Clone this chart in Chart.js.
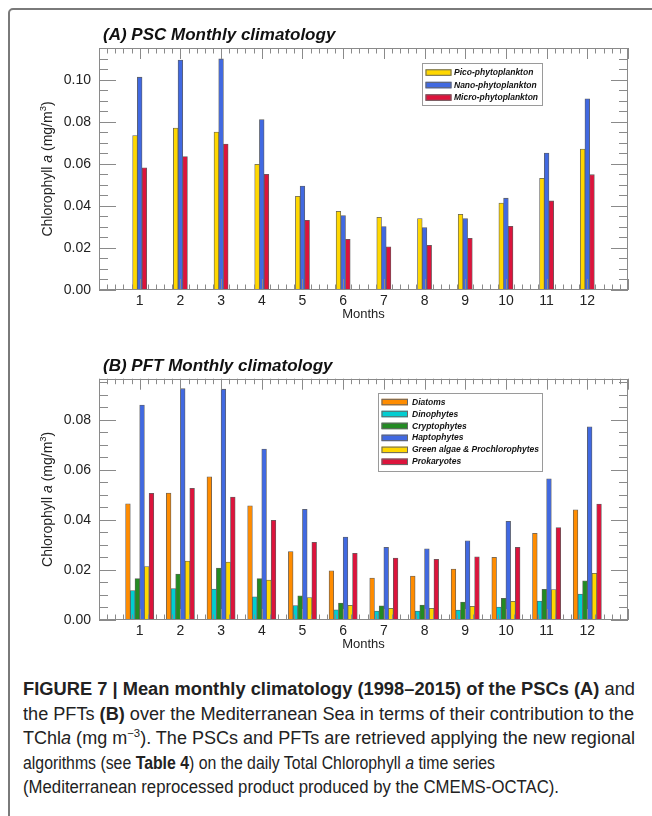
<!DOCTYPE html>
<html>
<head>
<meta charset="utf-8">
<script src="https://cdn.jsdelivr.net/npm/chart.js@4.4.0/dist/chart.umd.min.js"></script>
<style>
  html, body { margin: 0; padding: 0; background: #fff; }
  body { width: 652px; height: 816px; overflow: hidden; position: relative; font-family: 'Liberation Sans', Arial, sans-serif; color: #222; }
  .frame { position: absolute; left: 8px; top: 8px; width: 700px; height: 900px; border: 2px solid #7a7a7a; border-radius: 5px; box-sizing: border-box; }
  canvas { position: absolute; left: 0; }
  #chartA { top: 0; }
  #chartB { top: 330px; }
  .caption { position: absolute; left: 23px; top: 677px; font-size: 17.5px; line-height: 24.5px; color: #222; }
  .caption .line { display: block; white-space: nowrap; }
  .caption .line span.t { display: inline-block; transform-origin: 0 50%; }
  .caption sup { font-size: 11px; line-height: 0; }
</style>
</head>
<body>
<div class="frame"></div>
<canvas id="chartA" width="652" height="322"></canvas>
<canvas id="chartB" width="652" height="322"></canvas>
<div class="caption">
  <div class="line"><span class="t" data-w="612"><b>FIGURE 7 | Mean monthly climatology (1998–2015) of the PSCs (A)</b> and</span></div>
  <div class="line"><span class="t" data-w="611">the PFTs <b>(B)</b> over the Mediterranean Sea in terms of their contribution to the</span></div>
  <div class="line"><span class="t" data-w="612">TChl<i>a</i> (mg m<sup>−3</sup>). The PSCs and PFTs are retrieved applying the new regional</span></div>
  <div class="line"><span class="t" data-w="472">algorithms (see <b>Table 4</b>) on the daily Total Chlorophyll <i>a</i> time series</span></div>
  <div class="line"><span class="t" data-w="536">(Mediterranean reprocessed product produced by the CMEMS-OCTAC).</span></div>
</div>
<script>
// months on the x axis
var months = [1, 2, 3, 4, 5, 6, 7, 8, 9, 10, 11, 12];

// (A) size classes, mg/m3
var picoValues  = [0.0735, 0.0771, 0.0752, 0.0598, 0.0446, 0.0375, 0.0346, 0.0340, 0.0360, 0.0414, 0.0532, 0.0671];
var nanoValues  = [0.1013, 0.1095, 0.1100, 0.0811, 0.0495, 0.0354, 0.0302, 0.0297, 0.0340, 0.0437, 0.0652, 0.0910];
var microValues = [0.0582, 0.0635, 0.0695, 0.0551, 0.0332, 0.0241, 0.0206, 0.0213, 0.0246, 0.0303, 0.0424, 0.0549];

// (B) functional types, mg/m3
var diatoms      = [0.0465, 0.0508, 0.0573, 0.0457, 0.0274, 0.0197, 0.0168, 0.0176, 0.0204, 0.0251, 0.0347, 0.0441];
var dinophytes   = [0.0118, 0.0126, 0.0124, 0.0093, 0.0058, 0.0041, 0.0036, 0.0036, 0.0040, 0.0052, 0.0076, 0.0104];
var cryptophytes = [0.0166, 0.0184, 0.0208, 0.0166, 0.0097, 0.0068, 0.0057, 0.0060, 0.0072, 0.0087, 0.0123, 0.0157];
var haptophytes  = [0.0860, 0.0925, 0.0923, 0.0684, 0.0443, 0.0332, 0.0291, 0.0285, 0.0317, 0.0395, 0.0565, 0.0773];
var greenAlgae   = [0.0214, 0.0236, 0.0232, 0.0160, 0.0090, 0.0059, 0.0047, 0.0047, 0.0055, 0.0075, 0.0122, 0.0187];
var prokaryotes  = [0.0507, 0.0527, 0.0492, 0.0399, 0.0311, 0.0267, 0.0248, 0.0243, 0.0253, 0.0291, 0.0370, 0.0464];

var FONT = "'Liberation Sans', Arial, sans-serif";
var TICK_GREY = '#8a8a8a';

// ── inward ticks on all sides, frame, title, y title and boxed legend ──
var decor = {
    id: 'decor',
    afterDatasetsDraw: function(chart, args, o) {
        var ctx = chart.ctx, a = chart.chartArea, x = chart.scales.x, y = chart.scales.y;
        ctx.save();
        ctx.strokeStyle = TICK_GREY;
        ctx.lineWidth = 1;
        ctx.beginPath();
        for (var i = 0; i <= 65; i++) {
            var px = Math.round(x.getPixelForValue(i * 0.2)) + 0.5;
            var len = (i % 5 === 0) ? 11 : 5.5;
            ctx.moveTo(px, a.bottom); ctx.lineTo(px, a.bottom - len);
            ctx.moveTo(px, a.top); ctx.lineTo(px, a.top + len);
        }
        for (var j = 0; j * 0.005 <= y.max + 1e-9; j++) {
            var py = Math.round(y.getPixelForValue(j * 0.005)) + 0.5;
            var ylen = (j % 4 === 0) ? 17 : 9;
            ctx.moveTo(a.left, py); ctx.lineTo(a.left + ylen, py);
            ctx.moveTo(a.right, py); ctx.lineTo(a.right - ylen, py);
        }
        ctx.stroke();
        ctx.strokeRect(Math.round(a.left) + 0.5, Math.round(a.top) + 0.5, Math.round(a.width) - 1, Math.round(a.height) - 1);

        // panel title
        ctx.fillStyle = '#111';
        ctx.font = 'italic bold 17px ' + FONT;
        ctx.textBaseline = 'middle';
        ctx.textAlign = 'left';
        ctx.fillText(o.title, a.left + 4, o.titleY);

        // y axis title with italic a and superscript 3
        ctx.save();
        ctx.translate(48, (a.top + a.bottom) / 2);
        ctx.rotate(-Math.PI / 2);
        var parts = [
            { t: 'Chlorophyll ', f: '14px ' + FONT, dy: 0 },
            { t: 'a', f: 'italic 14px ' + FONT, dy: 0 },
            { t: ' (mg/m', f: '14px ' + FONT, dy: 0 },
            { t: '3', f: '9.5px ' + FONT, dy: -5 },
            { t: ')', f: '14px ' + FONT, dy: 0 }
        ];
        var total = 0;
        parts.forEach(function(p) { ctx.font = p.f; total += ctx.measureText(p.t).width; });
        var cx = -total / 2;
        ctx.fillStyle = '#222';
        parts.forEach(function(p) { ctx.font = p.f; ctx.fillText(p.t, cx, p.dy); cx += ctx.measureText(p.t).width; });
        ctx.restore();

        // legend box
        var L = o.legend;
        ctx.fillStyle = '#fff';
        ctx.fillRect(L.x, L.y, L.w, L.h);
        ctx.strokeStyle = '#9a9a9a';
        ctx.strokeRect(L.x + 0.5, L.y + 0.5, L.w - 1, L.h - 1);
        ctx.font = 'italic bold 8.5px ' + FONT;
        chart.data.datasets.forEach(function(ds, k) {
            var cy = L.y + L.first + k * L.row;
            ctx.fillStyle = ds.backgroundColor;
            ctx.fillRect(L.x + L.sx, cy - 3, L.sw, 6.5);
            ctx.strokeStyle = '#666';
            ctx.strokeRect(L.x + L.sx + 0.5, cy - 3 + 0.5, L.sw - 1, 5.5);
            ctx.fillStyle = '#111';
            ctx.fillText(ds.label, L.x + L.tx, cy + 0.5);
        });
        ctx.restore();
    }
};

function makeChart(id, datasets, yMax, padTop, decorOpts) {
    return new Chart(document.getElementById(id), {
        type: 'bar',
        data: { labels: months, datasets: datasets },
        options: {
            responsive: false, animation: false,
            layout: { padding: { top: padTop, right: 24, left: 0, bottom: 0 } },
            datasets: { bar: { barThickness: 4.7, borderWidth: 0.8, borderColor: '#5f5f5f', borderSkipped: 'start' } },
            plugins: { legend: { display: false }, tooltip: { enabled: false }, decor: decorOpts },
            scales: {
                x: {
                    type: 'linear', min: 0, max: 13, offset: false,
                    grid: { display: false, drawTicks: false }, border: { display: false },
                    ticks: { stepSize: 1, autoSkip: false, maxRotation: 0, padding: 3, color: '#222', font: { family: FONT, size: 14 },
                        callback: function(v) { return (v >= 1 && v <= 12) ? String(v) : ''; } },
                    title: { display: true, text: 'Months', color: '#222', font: { family: FONT, size: 13 }, padding: 0 },
                    afterFit: function(s) { s.height = 32; }
                },
                y: {
                    min: 0, max: yMax,
                    grid: { display: false, drawTicks: false }, border: { display: false },
                    ticks: { stepSize: 0.02, includeBounds: false, padding: 8, color: '#222', font: { family: FONT, size: 14 },
                        callback: function(v) { return v.toFixed(2); } },
                    afterFit: function(s) { s.width = 99; }
                }
            }
        },
        plugins: [decor]
    });
}

makeChart('chartA', [
    { label: 'Pico-phytoplankton',  data: picoValues,  backgroundColor: '#FFD700' },
    { label: 'Nano-phytoplankton',  data: nanoValues,  backgroundColor: '#4169E1' },
    { label: 'Micro-phytoplankton', data: microValues, backgroundColor: '#DC143C' }
], 0.1152, 48, {
    title: '(A) PSC Monthly climatology', titleY: 35,
    legend: { x: 422, y: 63, w: 121, h: 43, first: 9.3, row: 12.5, sx: 3.5, sw: 26, tx: 32 }
});

makeChart('chartB', [
    { label: 'Diatoms',                      data: diatoms,      backgroundColor: '#FF8C00' },
    { label: 'Dinophytes',                   data: dinophytes,   backgroundColor: '#00CED1' },
    { label: 'Cryptophytes',                 data: cryptophytes, backgroundColor: '#228B22' },
    { label: 'Haptophytes',                  data: haptophytes,  backgroundColor: '#4169E1' },
    { label: 'Green algae & Prochlorophytes', data: greenAlgae,  backgroundColor: '#FFD700' },
    { label: 'Prokaryotes',                  data: prokaryotes,  backgroundColor: '#DC143C' }
], 0.0965, 48.7, {
    title: '(B) PFT Monthly climatology', titleY: 36.7,
    legend: { x: 378, y: 63, w: 165, h: 79, first: 8.8, row: 11.95, sx: 3.5, sw: 26.5, tx: 34 }
});

// squeeze each caption line to its printed width
document.querySelectorAll('.caption .t').forEach(function(el) {
    var w = el.getBoundingClientRect().width;
    el.style.transform = 'scaleX(' + (parseFloat(el.getAttribute('data-w')) / w) + ')';
});
</script>
</body>
</html>
